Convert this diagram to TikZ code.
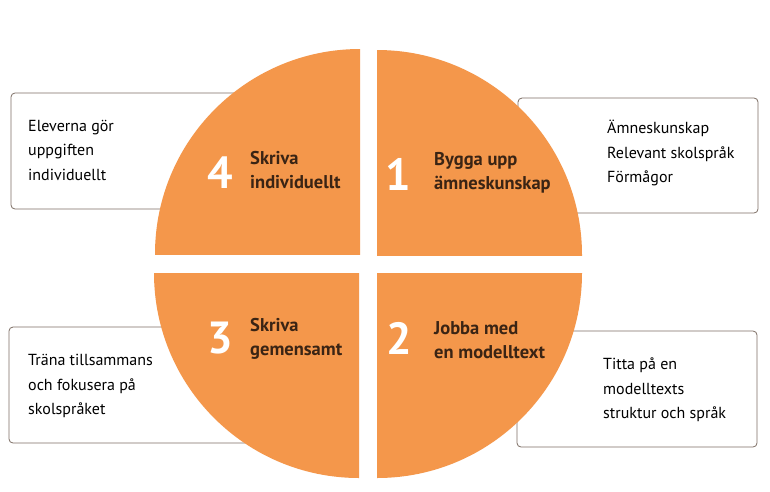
\documentclass[tikz,border=0pt]{standalone}
\usepackage{fontspec}
\setmainfont{PT Sans}
\definecolor{quadorange}{HTML}{F4974B}
\definecolor{labelbrown}{HTML}{3A2414}
\definecolor{boxline}{HTML}{7D6E64}
\begin{document}
\begin{tikzpicture}[x=1pt,y=-1pt,
  infobox/.style={draw=boxline,line width=0.8pt,rounded corners=4pt,fill=white,inner sep=0pt},
  infotext/.style={anchor=west,align=left,inner sep=0pt,font=\fontsize{16}{24.5}\selectfont,text=black},
  quadnum/.style={inner sep=0pt,text=white,font=\fontsize{45}{45}\selectfont\bfseries},
  quadlabel/.style={anchor=west,align=left,inner sep=0pt,text=labelbrown,font=\fontsize{18.5}{24.5}\selectfont\bfseries}]
\fill[white] (0,0) rectangle (770,491);
\useasboundingbox (0,0) rectangle (770,491);
% boxes (behind the disc)
\node[infobox,minimum width=240pt,minimum height=116pt] (boxTL) at (131,151) {};
\node[infobox,minimum width=240pt,minimum height=115pt] (boxTR) at (638,155.5) {};
\node[infobox,minimum width=240pt,minimum height=116pt] (boxBL) at (129,385) {};
\node[infobox,minimum width=240pt,minimum height=116pt] (boxBR) at (637,389) {};
% quadrants
\begin{scope}
  \clip (155,49) rectangle (360,254);
  \fill[quadorange] (360,254) circle[radius=205pt];
\end{scope}
\begin{scope}
  \clip (377,50) rectangle (582,255);
  \fill[quadorange] (377,255) circle[radius=205pt];
\end{scope}
\begin{scope}
  \clip (154,273) rectangle (359,478);
  \fill[quadorange] (359,273) circle[radius=205pt];
\end{scope}
\begin{scope}
  \clip (377,273) rectangle (582,478);
  \fill[quadorange] (377,273) circle[radius=205pt];
\end{scope}
% box texts
\node[infotext] (tTL) at (28,150) {Eleverna gör\\uppgiften\\individuellt};
\node[infotext] (tTR) at (607,153) {Ämneskunskap\\Relevant skolspråk\\Förmågor};
\node[infotext] (tBL) at (28,386) {Träna tillsammans\\och fokusera på\\skolspråket};
\node[infotext] (tBR) at (603,390) {Titta på en\\modelltexts\\struktur och språk};
% quadrant labels
\node[quadnum] (n4) at (220,173) {4};
\node[quadlabel] (l4) at (250,170) {Skriva\\individuellt};
\node[quadnum] (n1) at (398,174) {1};
\node[quadlabel] (l1) at (434,173) {Bygga upp\\ämneskunskap};
\node[quadnum] (n3) at (220,338) {3};
\node[quadlabel] (l3) at (250,339) {Skriva\\gemensamt};
\node[quadnum] (n2) at (399,338) {2};
\node[quadlabel] (l2) at (434,340) {Jobba med\\en modelltext};
\end{tikzpicture}
\end{document}
